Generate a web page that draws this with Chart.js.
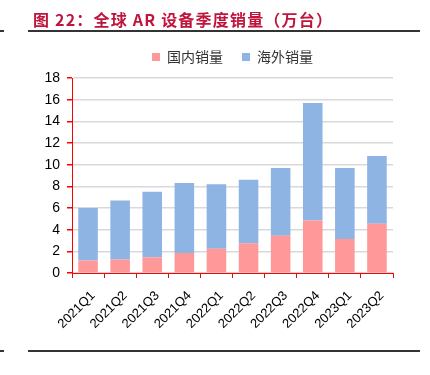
<!DOCTYPE html>
<html>
<head>
<meta charset="utf-8">
<script src="https://cdn.jsdelivr.net/npm/chart.js@4.4.0/dist/chart.umd.min.js"></script>
<style>
  body { margin: 0; background: #fff; }
  #wrap { position: relative; width: 430px; height: 375px; }
  #chartBox { position: absolute; left: 0; top: 0; width: 430px; height: 375px; }
  .title {
    position: absolute; left: 33px; top: 7px;
    font: bold 16px "Noto Sans CJK SC", sans-serif; letter-spacing: 1.2px;
    color: #c0143c; white-space: nowrap;
  }
  .rule { position: absolute; height: 2px; background: #333; }
</style>
</head>
<body>
<div id="wrap">
  <div id="chartBox"><canvas id="arChart"></canvas></div>
  <div class="title">图 22：全球 AR 设备季度销量（万台）</div>
  <div class="rule" style="left:28px; top:30px; width:392px;"></div>
  <div class="rule" style="left:0; top:30px; width:4px;"></div>
  <div class="rule" style="left:28px; top:350px; width:392px;"></div>
  <div class="rule" style="left:0; top:350px; width:4px;"></div>
</div>
<script>
// quarters and sales (万台)
const quarters = ['2021Q1', '2021Q2', '2021Q3', '2021Q4', '2022Q1',
    '2022Q2', '2022Q3', '2022Q4', '2023Q1', '2023Q2'];
const domesticSales = [1.15, 1.25, 1.45, 1.85, 2.25, 2.75, 3.45, 4.85, 3.15, 4.55];
const overseasSales = [4.85, 5.45, 6.05, 6.45, 5.95, 5.85, 6.25, 10.85, 6.55, 6.25];

const cjkFont = '"Noto Sans CJK SC", sans-serif';
const numFont = '"Liberation Sans", Arial, sans-serif';

//gives the legend a fixed height so the plot starts where it should
const legendHeight = {
    id: 'legendHeight',
    beforeInit(chart) {
        const fit = chart.legend.fit;
        chart.legend.fit = function () {
            fit.bind(chart.legend)();
            this.height = 47;
        };
    }
};

const arChart = new Chart(
    document.getElementById('arChart'),
    {
        type: 'bar',
        data: {
            labels: quarters,
            datasets: [{
                label: '国内销量',
                backgroundColor: '#ff9999',
                data: domesticSales,
            }, {
                label: '海外销量',
                backgroundColor: '#8eb4e3',
                data: overseasSales,
            }]
        },
        options: {
            responsive: true,
            maintainAspectRatio: false,
            animation: false,
            layout: {
                padding: { top: 31, right: 37, bottom: 0, left: 0 }
            },
            datasets: {
                bar: { barPercentage: 0.61, categoryPercentage: 1 }
            },
            scales: {
                x: {
                    stacked: true,
                    afterFit(scale) { scale.height = 102; },
                    border: { color: '#ff0000', width: 1 },
                    grid: {
                        drawOnChartArea: false,
                        tickColor: '#ff0000',
                        tickLength: 5,
                    },
                    ticks: {
                        color: '#000',
                        font: { family: numFont, size: 13 },
                        minRotation: 45,
                        maxRotation: 45,
                        padding: 10,
                        labelOffset: 5,
                    }
                },
                y: {
                    stacked: true,
                    min: 0,
                    max: 18,
                    afterFit(scale) { scale.width = 72; },
                    border: { color: '#ff0000', width: 1 },
                    grid: {
                        color: '#d9d9d9',
                        lineWidth: 1.5,
                        tickColor: '#ff0000',
                        tickLength: 5,
                    },
                    ticks: {
                        stepSize: 2,
                        color: '#000',
                        font: { family: numFont, size: 14 },
                        padding: 7,
                    }
                }
            },
            plugins: {
                legend: {
                    position: 'top',
                    fullSize: false,
                    labels: {
                        boxWidth: 8,
                        boxHeight: 8,
                        padding: 19,
                        color: '#333',
                        font: { family: cjkFont, size: 14 },
                    }
                },
                tooltip: { enabled: false },
            },
        },
        plugins: [legendHeight]
    }
);
</script>
</body>
</html>
